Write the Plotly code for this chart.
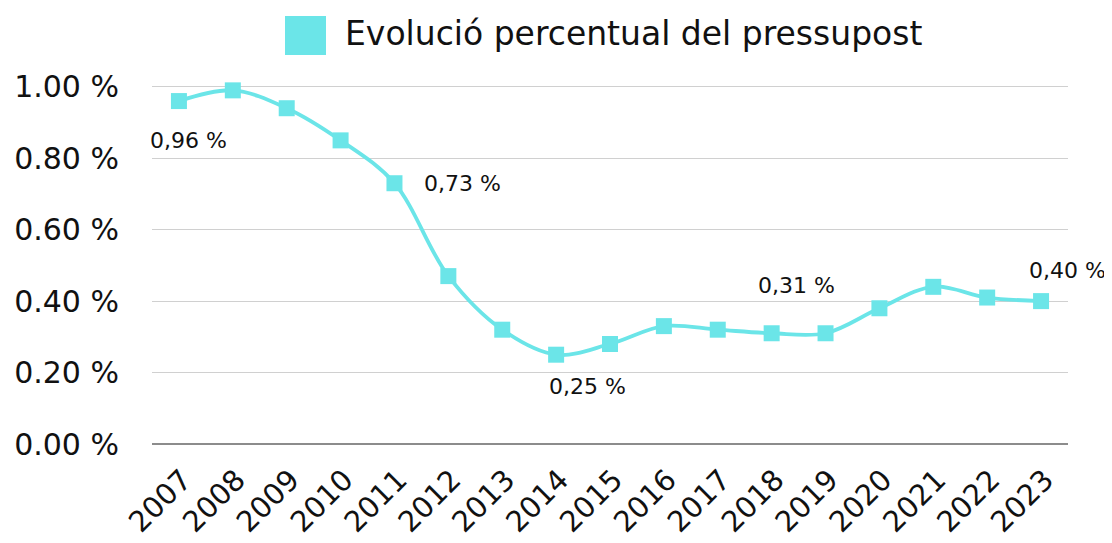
import plotly.graph_objects as go

years = ["2007", "2008", "2009", "2010", "2011", "2012", "2013", "2014", "2015",
         "2016", "2017", "2018", "2019", "2020", "2021", "2022", "2023"]
values = [0.96, 0.99, 0.94, 0.85, 0.73, 0.47, 0.32, 0.25, 0.28,
          0.33, 0.32, 0.31, 0.31, 0.38, 0.44, 0.41, 0.40]
series_name = "Evolució percentual del pressupost"

label_years = ["2007", "2011", "2014", "2018", "2023"]
label_offsets = [(10, -39), (68, 0), (31, -32), (25, 48), (26, 31)]

y_tickvals = [0.0, 0.2, 0.4, 0.6, 0.8, 1.0]
y_ticktext = ["0.00 %", "0.20 %", "0.40 %", "0.60 %", "0.80 %", "1.00 %"]

color = "#6BE5E8"
FONT = "DejaVu Sans"

W, H = 1104, 535
ML, MR, MT, MB = 144, 44, 77, 99
pw = W - ML - MR
ph = H - MT - MB


def px(fx):
    return (fx - ML) / pw


def py(fy):
    return (H - MB - fy) / ph


fig = go.Figure()
fig.add_trace(go.Scatter(
    x=years, y=values, name=series_name, mode="lines+markers",
    line=dict(color=color, width=3.8, shape="spline", smoothing=1.0),
    marker=dict(symbol="square", size=16, color=color),
    showlegend=False, cliponaxis=False,
))

annotations = []
for yr, (dx, dy) in zip(label_years, label_offsets):
    i = years.index(yr)
    v = values[i]
    annotations.append(dict(
        x=i, y=v, xref="x", yref="y",
        text=f"{v:.2f}".replace(".", ",") + " %",
        showarrow=False, xshift=dx, yshift=dy,
        font=dict(family=FONT, size=22, color="#111111"),
    ))

# legend drawn manually (large square swatch)
annotations.append(dict(
    x=px(335), y=py(26), xref="paper", yref="paper",
    text=series_name, showarrow=False,
    font=dict(family=FONT, size=33, color="#111111"),
    xanchor="left", yanchor="middle",
))

fig.update_layout(
    width=W, height=H,
    margin=dict(l=ML, r=MR, t=MT, b=MB, autoexpand=False),
    paper_bgcolor="white", plot_bgcolor="white",
    font=dict(family=FONT, color="#111111"),
    annotations=annotations,
    xaxis=dict(
        type="category", tickangle=-45, showgrid=False,
        range=[-0.5, len(years) - 0.5], automargin=False,
        tickfont=dict(family=FONT, size=29, color="#111111"),
        showline=False, zeroline=False, ticks="",
        ticklabelstandoff=12, ticklabelshift=4,
    ),
    yaxis=dict(
        range=[0, 1.005], tickvals=y_tickvals, ticktext=y_ticktext,
        automargin=False,
        tickfont=dict(family=FONT, size=30, color="#111111"),
        showgrid=True, gridcolor="#D0D0D0", gridwidth=1,
        zeroline=True, zerolinecolor="#8C8C8C", zerolinewidth=1.5,
        showline=False, ticks="", ticklabelstandoff=32,
    ),
)

fig.add_shape(
    type="rect", xref="paper", yref="paper",
    x0=px(277), x1=px(318), y0=py(47), y1=py(8),
    fillcolor=color, line=dict(width=0),
)

fig.write_html("out.html")
